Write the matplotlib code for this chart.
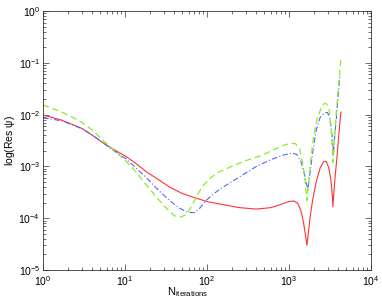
import numpy as np
import matplotlib.pyplot as plt
from matplotlib.ticker import LogLocator, NullFormatter

plt.rcParams['font.family'] = ['Liberation Sans', 'DejaVu Sans']
plt.rcParams['mathtext.fontset'] = 'custom'
plt.rcParams['mathtext.rm'] = 'Liberation Sans'
plt.rcParams['mathtext.it'] = 'Liberation Sans'

#### values ####
red_x = [1, 1.3, 1.7, 2.2, 3, 4, 5.5, 7, 10, 13, 18, 25, 35, 50, 70, 100, 150, 250, 400, 600, 800,
         1000, 1150, 1280, 1400, 1500, 1600, 1660, 1720, 1820, 1950, 2150, 2400, 2650, 2850, 3050,
         3250, 3380, 3440, 3520, 3650, 3850, 4050, 4300]
red_y = [0.0098, 0.0088, 0.0078, 0.0066, 0.0054, 0.0040, 0.0028, 0.0022, 0.0016, 0.0012, 8e-4,
         5.7e-4, 4e-4, 3e-4, 2.5e-4, 2.1e-4, 1.85e-4, 1.6e-4, 1.5e-4, 1.6e-4, 1.85e-4, 2.1e-4,
         2.15e-4, 1.95e-4, 1.4e-4, 8.5e-5, 4.5e-5, 3e-5, 5e-5, 1.1e-4, 2.3e-4, 5e-4, 9.3e-4,
         1.25e-3, 1.25e-3, 9.5e-4, 5.5e-4, 2.8e-4, 1.66e-4, 3e-4, 6e-4, 1.5e-3, 4e-3, 0.0112]

green_x = [1, 1.3, 1.7, 2.2, 3, 4, 5.5, 7, 10, 13, 18, 25, 32, 40, 47, 55, 65, 75, 90, 110, 140,
           200, 300, 450, 650, 850, 1050, 1200, 1350, 1480, 1580, 1660, 1740, 1850, 2000, 2200,
           2450, 2700, 2900, 3100, 3280, 3400, 3440, 3530, 3700, 3950, 4150, 4300]
green_y = [0.0153, 0.0132, 0.0112, 0.0092, 0.0070, 0.0050, 0.0031, 0.0022, 1.33e-3, 8.5e-4,
           4.5e-4, 2.4e-4, 1.55e-4, 1.12e-4, 1.05e-4, 1.15e-4, 1.7e-4, 2.7e-4, 4.3e-4, 6e-4,
           7.8e-4, 1.0e-3, 1.3e-3, 1.6e-3, 2.1e-3, 2.55e-3, 2.8e-3, 2.75e-3, 2.2e-3, 1.1e-3, 5e-4,
           2.2e-4, 5e-4, 1.4e-3, 3.8e-3, 8e-3, 0.013, 0.0165, 0.016, 0.012, 5e-3, 1.8e-3, 1.2e-3,
           2.5e-3, 7e-3, 0.025, 0.06, 0.124]

blue_x = [1, 1.3, 1.7, 2.2, 3, 4, 5.5, 7, 10, 13, 18, 25, 35, 45, 58, 70, 80, 95, 115, 150, 250,
          400, 600, 850, 1100, 1250, 1400, 1550, 1700, 1800, 1950, 2150, 2400, 2700, 2950, 3150,
          3350, 3500, 3600, 3800, 4000, 4170]
blue_y = [0.0086, 0.0082, 0.0075, 0.0065, 0.0053, 0.0040, 0.0028, 0.0021, 1.45e-3, 1.0e-3,
          6.2e-4, 3.6e-4, 2.2e-4, 1.6e-4, 1.3e-4, 1.28e-4, 1.5e-4, 2.1e-4, 2.8e-4, 3.8e-4, 6.3e-4,
          1.0e-3, 1.35e-3, 1.65e-3, 1.82e-3, 1.7e-3, 1.25e-3, 7e-4, 3.5e-4, 7e-4, 1.9e-3, 5e-3,
          8.8e-3, 0.0108, 0.011, 8.5e-3, 4e-3, 1.8e-3, 3.5e-3, 9e-3, 0.025, 0.053]

fig = plt.figure(figsize=(3.82, 2.99), dpi=100)
ax = fig.add_axes([0.1126, 0.097, 0.8584, 0.866])

ax.loglog(red_x, red_y, '-', color='#ff3333', lw=0.8)
ax.loglog(blue_x, blue_y, '-.', color='#5566ff', lw=0.8, dashes=(5, 2, 1, 2))
ax.loglog(green_x, green_y, '--', color='#88ee22', lw=0.9, dashes=(5, 3))

ax.set_xlim(1, 1e4)
ax.set_ylim(1e-5, 1)
ax.xaxis.set_minor_locator(LogLocator(base=10, subs=np.arange(2, 10)))
ax.yaxis.set_minor_locator(LogLocator(base=10, subs=np.arange(2, 10)))
ax.xaxis.set_minor_formatter(NullFormatter())
ax.yaxis.set_minor_formatter(NullFormatter())
ax.tick_params(which='both', direction='in', top=True, right=True, labelsize=7.5, width=0.5, color='#333333')
ax.tick_params(which='major', length=4, pad=2)
ax.tick_params(axis='x', which='major', pad=3)
ax.tick_params(which='minor', length=2)
for s in ax.spines.values():
    s.set_linewidth(0.6)
    s.set_color('#333333')

ax.set_xlabel(r'N$_{\mathrm{iterations}}$', fontsize=8)
ax.xaxis.set_label_coords(0.44, -0.057, transform=ax.transAxes)
ax.xaxis.label.set_va('top')
ax.set_ylabel(r'log(Res $\psi$)', fontsize=7.5, labelpad=1)

fig.savefig('out.png', dpi=100)
